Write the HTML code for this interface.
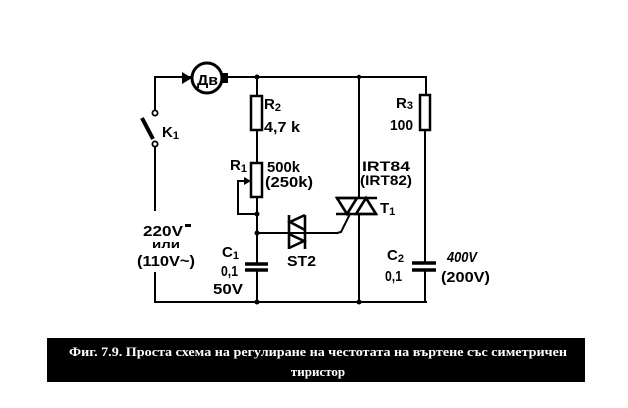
<!DOCTYPE html>
<html><head><meta charset="utf-8"><style>
html,body{margin:0;padding:0;background:#fff;}
svg{display:block;}
.t{font-family:"Liberation Sans","DejaVu Sans",sans-serif;font-weight:bold;fill:#000;}
.c{font-family:"Liberation Serif","DejaVu Serif",serif;font-weight:bold;fill:#fff;font-size:13px;}
</style></head><body>
<svg width="628" height="408" viewBox="0 0 628 408" xmlns="http://www.w3.org/2000/svg">
<rect width="628" height="408" fill="#fff"/>
<g stroke="#000" stroke-width="2" fill="none" stroke-linecap="square">
  <!-- top wire -->
  <line x1="155" y1="77" x2="190" y2="77"/>
  <line x1="224" y1="77" x2="426" y2="77"/>
  <!-- left wire -->
  <line x1="155" y1="77" x2="155" y2="110"/>
  <line x1="155" y1="147" x2="155" y2="210"/>
  <line x1="155" y1="273" x2="155" y2="302"/>
  <!-- bottom wire -->
  <line x1="155" y1="302" x2="426" y2="302"/>
  <!-- R2/R1 column -->
  <line x1="257" y1="77" x2="257" y2="96"/>
  <line x1="257" y1="130" x2="257" y2="163"/>
  <line x1="257" y1="197" x2="257" y2="264"/>
  <line x1="257" y1="270" x2="257" y2="302"/>
  <!-- wiper -->
  <polyline points="246,181 238,181 238,214 257,214"/>
  <!-- diac wire -->
  <line x1="257" y1="233" x2="337" y2="233"/>
  <polyline points="337,233 341,232 350,214" />
  <!-- triac column -->
  <line x1="359" y1="77" x2="359" y2="198"/>
  <line x1="359" y1="214" x2="359" y2="302"/>
  <!-- right column -->
  <line x1="426" y1="77" x2="426" y2="95"/>
  <line x1="425" y1="130" x2="425" y2="263"/>
  <line x1="425" y1="270" x2="425" y2="302"/>
</g>
<!-- resistors -->
<g stroke="#000" stroke-width="2.5" fill="#fff">
  <rect x="251" y="96" width="11" height="34"/>
  <rect x="251" y="163" width="11" height="34"/>
  <rect x="420" y="95" width="10" height="35"/>
</g>
<!-- wiper arrow -->
<polygon points="251,181 244,177 244,185" fill="#000"/>
<!-- capacitors -->
<g stroke="#000" stroke-width="3.5">
  <line x1="245" y1="264" x2="268" y2="264"/>
  <line x1="245" y1="270" x2="268" y2="270"/>
  <line x1="412" y1="263" x2="436" y2="263"/>
  <line x1="412" y1="270" x2="436" y2="270"/>
</g>
<!-- motor -->
<circle cx="207" cy="78" r="15" stroke="#000" stroke-width="3" fill="#fff"/>
<polygon points="182,72 192,78 182,84" fill="#000"/>
<rect x="222" y="73" width="6" height="10" fill="#000"/>
<text class="t" x="197" y="85" font-size="15" textLength="21" lengthAdjust="spacingAndGlyphs">Дв</text>
<!-- switch -->
<g stroke="#000" fill="#fff" stroke-width="1.8">
  <circle cx="155" cy="113" r="2.6"/>
  <circle cx="155" cy="144" r="2.6"/>
</g>
<line x1="142" y1="118" x2="153" y2="139" stroke="#000" stroke-width="4"/>
<!-- triac -->
<g stroke="#000" stroke-width="2.6" fill="none" stroke-linejoin="miter">
  <line x1="336" y1="198" x2="377" y2="198"/>
  <line x1="336" y1="214" x2="377" y2="214"/>
  <polygon points="337,198 357,198 347,214"/>
  <polygon points="356,214 376,214 366,198"/>
</g>
<!-- diac -->
<g stroke="#000" stroke-width="2.6" fill="none">
  <line x1="289" y1="215" x2="289" y2="249"/>
  <line x1="305" y1="215" x2="305" y2="249"/>
  <polyline points="305,215 290,222 305,230"/>
  <polyline points="289,234 304,241 289,248"/>
</g>
<!-- junction dots -->
<g fill="#000">
  <circle cx="257" cy="77" r="2.5"/>
  <circle cx="359" cy="77" r="2.2"/>
  <circle cx="257" cy="214" r="2.5"/>
  <circle cx="257" cy="233" r="2.5"/>
  <circle cx="257" cy="302" r="2.5"/>
  <circle cx="359" cy="302" r="2.5"/>
</g>
<!-- labels -->
<g class="t">
  <text x="162" y="137" font-size="15">K<tspan font-size="11" dy="2">1</tspan></text>
  <text x="264" y="109" font-size="15">R<tspan font-size="11" dy="2">2</tspan></text>
  <text x="264" y="132" font-size="15" textLength="36" lengthAdjust="spacingAndGlyphs">4,7 k</text>
  <text x="230" y="170" font-size="15">R<tspan font-size="11" dy="2">1</tspan></text>
  <text x="267" y="172" font-size="15" textLength="33" lengthAdjust="spacingAndGlyphs">500k</text>
  <text x="265" y="187" font-size="15" textLength="48" lengthAdjust="spacingAndGlyphs">(250k)</text>
  <text x="396" y="108" font-size="15">R<tspan font-size="11" dy="1">3</tspan></text>
  <text x="390" y="130" font-size="15" textLength="23" lengthAdjust="spacingAndGlyphs">100</text>
  <text x="362" y="171" font-size="14" textLength="48" lengthAdjust="spacingAndGlyphs">IRT84</text>
  <text x="360" y="185" font-size="14" textLength="52" lengthAdjust="spacingAndGlyphs">(IRT82)</text>
  <text x="380" y="213" font-size="15">T<tspan font-size="11" dy="2">1</tspan></text>
  <text x="287" y="266" font-size="15" textLength="29" lengthAdjust="spacingAndGlyphs">ST2</text>
  <text x="222" y="257" font-size="15">C<tspan font-size="11" dy="2">1</tspan></text>
  <text x="221" y="276" font-size="15" textLength="17" lengthAdjust="spacingAndGlyphs">0,1</text>
  <text x="213" y="294" font-size="15" textLength="30" lengthAdjust="spacingAndGlyphs">50V</text>
  <text x="143" y="236" font-size="15" textLength="40" lengthAdjust="spacingAndGlyphs">220V</text>
  <rect x="185" y="224" width="6" height="3" fill="#000"/>
  <text x="152" y="248" font-size="11" textLength="28" lengthAdjust="spacingAndGlyphs">или</text>
  <text x="137" y="266" font-size="15" textLength="58" lengthAdjust="spacingAndGlyphs">(110V~)</text>
  <text x="387" y="260" font-size="15">C<tspan font-size="11" dy="2">2</tspan></text>
  <text x="385" y="281" font-size="15" textLength="17" lengthAdjust="spacingAndGlyphs">0,1</text>
  <text x="447" y="262" font-size="15" font-style="italic" textLength="30" lengthAdjust="spacingAndGlyphs">400V</text>
  <text x="441" y="282" font-size="15" textLength="49" lengthAdjust="spacingAndGlyphs">(200V)</text>
</g>
<!-- caption -->
<rect x="47" y="338" width="538" height="44" fill="#000"/>
<text class="c" x="69" y="356" textLength="498" lengthAdjust="spacingAndGlyphs">Фиг. 7.9. Проста схема на регулиране на честотата на въртене със симетричен</text>
<text class="c" x="318" y="376" text-anchor="middle">тиристор</text>
</svg>
</body></html>
